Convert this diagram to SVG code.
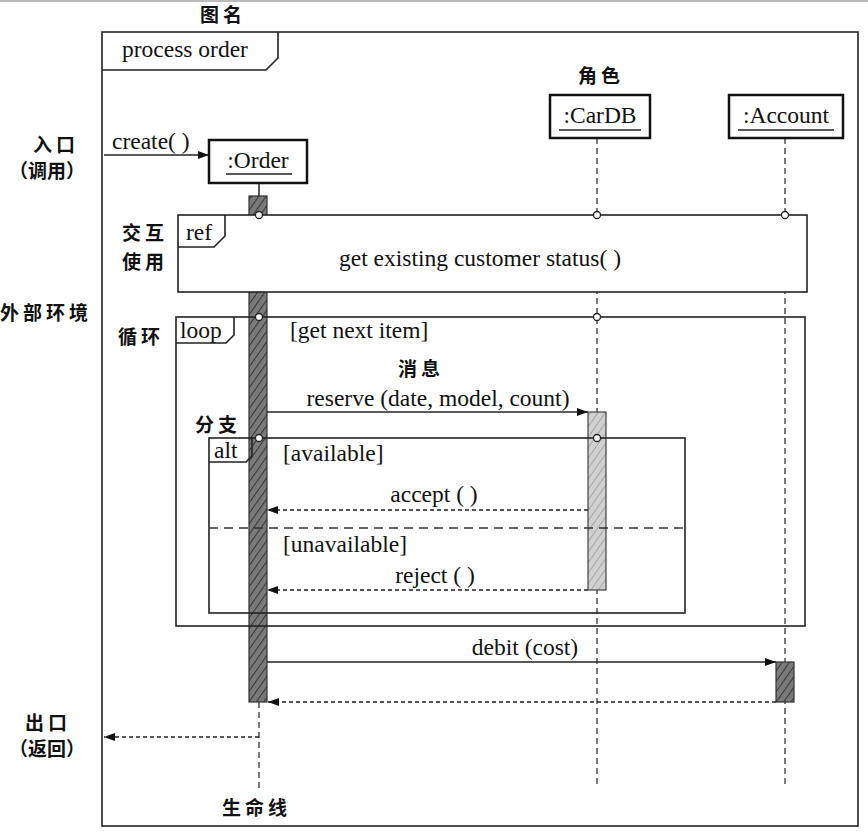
<svg xmlns="http://www.w3.org/2000/svg" width="868" height="835" viewBox="0 0 868 835">
<style>
.t{font-family:"Liberation Serif","Times New Roman",serif;font-size:23.5px;fill:#111}
.c{font-family:"Noto Sans CJK SC",sans-serif;font-size:19px;font-weight:bold;fill:#111;letter-spacing:4px}
.p{letter-spacing:0px}
.fr{fill:none;stroke:#222;stroke-width:1.6}
.ll{stroke:#333;stroke-width:1.3;stroke-dasharray:6,4;fill:none}
.msg{stroke:#222;stroke-width:1.5;fill:none}
.ret{stroke:#222;stroke-width:1.4;stroke-dasharray:4,3;fill:none}
.box{fill:#fff;stroke:#111;stroke-width:2.5}
.gate{fill:#fff;stroke:#222;stroke-width:1.3}
</style>
<defs>
<marker id="ah" markerWidth="12" markerHeight="10" refX="11" refY="5" orient="auto" markerUnits="userSpaceOnUse">
<path d="M0,1 L11,5 L0,9 Z" fill="#111"/>
</marker>
<pattern id="hd" width="6" height="6" patternUnits="userSpaceOnUse" patternTransform="rotate(35)">
<rect width="6" height="6" fill="#7a7a7a"/>
<line x1="0" y1="0" x2="0" y2="6" stroke="#3a3a3a" stroke-width="2.2"/>
</pattern>
<pattern id="hl" width="6" height="6" patternUnits="userSpaceOnUse" patternTransform="rotate(35)">
<rect width="6" height="6" fill="#d0d0d0"/>
<line x1="0" y1="0" x2="0" y2="6" stroke="#999" stroke-width="1.5"/>
</pattern>
</defs>
<rect x="0" y="0" width="868" height="835" fill="#fff"/>
<rect x="0" y="0" width="868" height="2" fill="#bbb"/>

<g id="frame">
<rect class="fr" x="102" y="32" width="756" height="794"/>
<path class="fr" d="M102,70 H266 L278,58 V32"/>
<text class="t" x="122" y="57">process order</text>
</g>

<g id="lifelines">
<line class="ll" x1="259" y1="702" x2="259" y2="790"/>
<line class="ll" x1="597" y1="138" x2="597" y2="785"/>
<line class="ll" x1="785" y1="138" x2="785" y2="785"/>
<line x1="259" y1="184" x2="259" y2="196" stroke="#222" stroke-width="1.5"/>
</g>

<g id="order">
<rect class="box" x="209" y="140" width="98" height="43"/>
<text class="t" x="258" y="168" text-anchor="middle">:Order</text>
<line x1="226" y1="174" x2="292" y2="174" stroke="#222" stroke-width="1.3"/>
</g>
<g id="cardb">
<rect class="box" x="550" y="95" width="100" height="43"/>
<text class="t" x="600" y="123" text-anchor="middle">:CarDB</text>
<line x1="559" y1="130" x2="641" y2="130" stroke="#222" stroke-width="1.3"/>
</g>
<g id="account">
<rect class="box" x="729" y="95" width="114" height="43"/>
<text class="t" x="786" y="123" text-anchor="middle">:Account</text>
<line x1="738" y1="130" x2="834" y2="130" stroke="#222" stroke-width="1.3"/>
</g>

<g id="activations">
<rect x="249" y="196" width="18" height="506" fill="url(#hd)" stroke="#333" stroke-width="1.2"/>
<rect x="588" y="412" width="18" height="178" fill="url(#hl)" stroke="#444" stroke-width="1.2"/>
<rect x="776" y="662" width="18" height="40" fill="url(#hd)" stroke="#333" stroke-width="1.2"/>
</g>

<g id="ref">
<rect x="178" y="215" width="629" height="77" fill="#fff" stroke="#222" stroke-width="1.6"/>
<path class="fr" d="M178,247 H214 L225,236 V215"/>
<text class="t" x="186" y="240">ref</text>
<text class="t" x="480" y="266" text-anchor="middle">get existing customer status( )</text>
</g>

<g id="loop">
<rect class="fr" x="176" y="317" width="629" height="309"/>
<path class="fr" d="M176,343 H226 L234,335 V317"/>
<text class="t" x="180" y="338">loop</text>
<text class="t" x="290" y="338">[get next item]</text>
</g>

<g id="alt">
<rect class="fr" x="209" y="438" width="476" height="175"/>
<path class="fr" d="M209,462 H246 L252,456 V438"/>
<text class="t" x="214" y="458">alt</text>
<text class="t" x="283" y="461">[available]</text>
<line x1="209" y1="528" x2="685" y2="528" stroke="#333" stroke-width="1.3" stroke-dasharray="9,6"/>
<text class="t" x="283" y="552">[unavailable]</text>
</g>

<g id="gates">
<circle class="gate" cx="259" cy="215" r="3.5"/>
<circle class="gate" cx="597" cy="215" r="3.5"/>
<circle class="gate" cx="785" cy="215" r="3.5"/>
<circle class="gate" cx="259" cy="317" r="3.5"/>
<circle class="gate" cx="597" cy="317" r="3.5"/>
<circle class="gate" cx="259" cy="438" r="3.5"/>
<circle class="gate" cx="597" cy="438" r="3.5"/>
</g>

<g id="connectors">
<line class="msg" x1="104" y1="155" x2="209" y2="155" marker-end="url(#ah)"/>
<text class="t" x="112" y="149">create( )</text>
<line class="msg" x1="267" y1="412" x2="588" y2="412" marker-end="url(#ah)"/>
<text class="t" x="438" y="406" text-anchor="middle">reserve (date, model, count)</text>
<line class="ret" x1="588" y1="510" x2="267" y2="510" marker-end="url(#ah)"/>
<text class="t" x="434" y="502" text-anchor="middle">accept ( )</text>
<line class="ret" x1="588" y1="590" x2="267" y2="590" marker-end="url(#ah)"/>
<text class="t" x="435" y="583" text-anchor="middle">reject ( )</text>
<line class="msg" x1="267" y1="662" x2="776" y2="662" marker-end="url(#ah)"/>
<text class="t" x="525" y="655" text-anchor="middle">debit (cost)</text>
<line class="ret" x1="776" y1="702" x2="268" y2="702" marker-end="url(#ah)"/>
<line class="ret" x1="259" y1="737" x2="104" y2="737" marker-end="url(#ah)"/>
</g>

<g id="annotations">
<text class="c" x="200" y="22" font-size="18">图名</text>
<text class="c" x="578" y="83">角色</text>
<text class="c" x="33" y="152">入口</text>
<text class="c p" x="9" y="178">（调用）</text>
<text class="c" x="122" y="240">交互</text>
<text class="c" x="122" y="269">使用</text>
<text class="c" x="0" y="320">外部环境</text>
<text class="c" x="118" y="344">循环</text>
<text class="c" x="398" y="376">消息</text>
<text class="c" x="195" y="432">分支</text>
<text class="c" x="25" y="730">出口</text>
<text class="c p" x="9" y="756">（返回）</text>
<text class="c" x="222" y="815">生命线</text>
</g>
</svg>
